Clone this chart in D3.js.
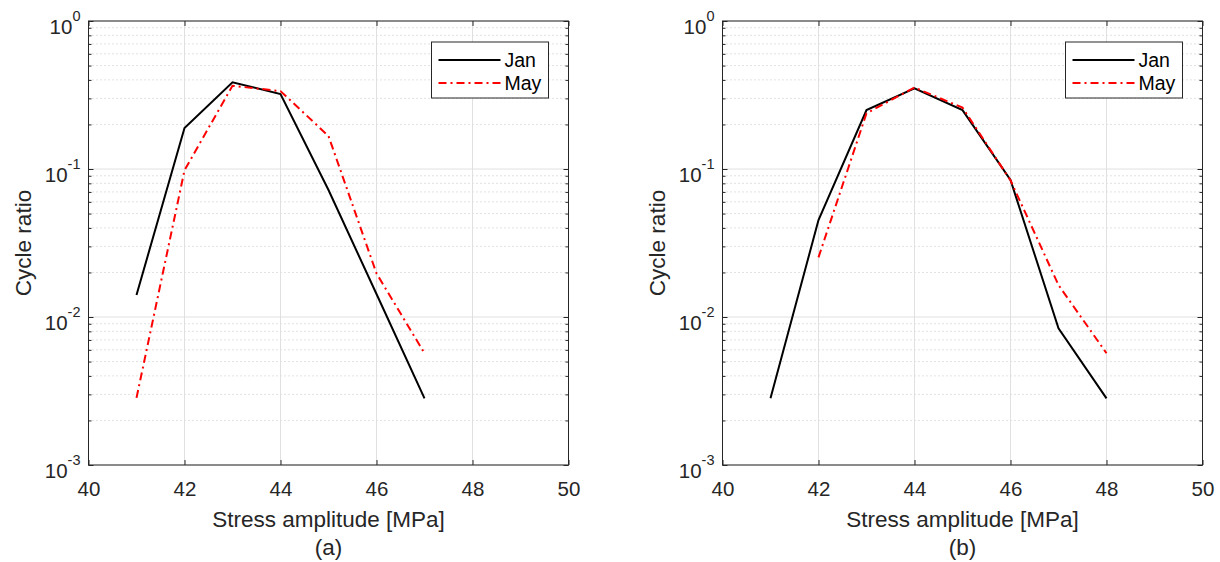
<!DOCTYPE html>
<html>
<head>
<meta charset="utf-8">
<script src="https://cdn.jsdelivr.net/npm/d3@7"></script>
<style>
  body { margin: 0; background: #fff; }
  svg { font-family: "Liberation Sans", Arial, sans-serif; }
</style>
</head>
<body>
<svg id="chart" width="1220" height="562"></svg>
<script>
// stress amplitude waarden (x) en cycle ratio per maand
var stressA = [41, 42, 43, 44, 45, 46, 47];
var janA    = [0.0141, 0.189, 0.385, 0.321, 0.0721, 0.0143, 0.00282];
var mayA    = [0.00284, 0.098, 0.365, 0.336, 0.167, 0.0197, 0.00569];

var stressJanB = [41, 42, 43, 44, 45, 46, 47, 48];
var janB       = [0.00282, 0.0452, 0.25, 0.351, 0.25, 0.0843, 0.00839, 0.00282];
var stressMayB = [42, 43, 44, 45, 46, 47, 48];
var mayB       = [0.0253, 0.238, 0.355, 0.26, 0.0838, 0.01644, 0.00569];

var xTicks = [40, 42, 44, 46, 48, 50];
var yTicks = [1e-3, 1e-2, 1e-1, 1];
var seriesNames = ["Jan", "May"];
var panelLabels = ["(a)", "(b)"];

var svg = d3.select("#chart");
var axisColor = "#262626";

function drawPanel(left, series, label) {
  var top = 21, w = 480, h = 444;
  var g = svg.append("g").attr("transform", "translate(" + left + "," + top + ")");

  var x = d3.scaleLinear().domain([40, 50]).range([0, w]);
  var y = d3.scaleLog().domain([1e-3, 1]).range([h, 0]);

  // minor waarden 2..9 per decade
  var minor = [];
  yTicks.slice(0, -1).forEach(function(d) {
    for (var k = 2; k <= 9; k++) minor.push(d * k);
  });

  // grid
  g.append("g").selectAll("line").data(minor).enter().append("line")
    .attr("x1", 0).attr("x2", w)
    .attr("y1", function(d) { return y(d); }).attr("y2", function(d) { return y(d); })
    .attr("stroke", "#c4c4c4").attr("stroke-width", 1).attr("stroke-dasharray", "1,3");
  g.append("g").selectAll("line").data(xTicks).enter().append("line")
    .attr("x1", function(d) { return x(d); }).attr("x2", function(d) { return x(d); })
    .attr("y1", 0).attr("y2", h)
    .attr("stroke", "#e0e0e0").attr("stroke-width", 1);
  g.append("g").selectAll("line").data(yTicks).enter().append("line")
    .attr("x1", 0).attr("x2", w)
    .attr("y1", function(d) { return y(d); }).attr("y2", function(d) { return y(d); })
    .attr("stroke", "#e0e0e0").attr("stroke-width", 1);

  // lijnen
  var line = d3.line()
    .x(function(d) { return x(d[0]); })
    .y(function(d) { return y(d[1]); });

  series.forEach(function(s) {
    g.append("path")
      .datum(d3.zip(s.xs, s.ys))
      .attr("fill", "none")
      .attr("stroke", s.color)
      .attr("stroke-width", 2)
      .attr("stroke-dasharray", s.dash)
      .attr("d", line);
  });

  // assen (ticks naar binnen)
  function styleAxis(sel) {
    sel.select(".domain").remove();
    sel.selectAll("line").attr("stroke", axisColor);
    sel.selectAll("text").attr("fill", axisColor);
  }

  g.append("g").attr("transform", "translate(0," + h + ")")
    .call(d3.axisBottom(x).tickValues(xTicks).tickSize(-5).tickPadding(16))
    .call(styleAxis)
    .selectAll("text").attr("font-size", 20.5);
  g.append("g")
    .call(d3.axisTop(x).tickValues(xTicks).tickSize(-5).tickFormat(""))
    .call(styleAxis);

  var yl = g.append("g")
    .call(d3.axisLeft(y).tickValues(yTicks).tickSize(-5).tickPadding(8).tickFormat(""))
    .call(styleAxis);
  yl.selectAll(".tick text").each(function(d) {
    var t = d3.select(this).attr("font-size", 20.5).attr("dy", "0.6em");
    t.append("tspan").text("10");
    t.append("tspan").attr("font-size", 14.5).attr("dy", "-0.85em")
      .text(String(Math.round(Math.log10(d))));
  });
  g.append("g")
    .call(d3.axisLeft(y).tickValues(minor).tickSize(-3).tickFormat(""))
    .call(styleAxis);
  g.append("g").attr("transform", "translate(" + w + ",0)")
    .call(d3.axisRight(y).tickValues(yTicks).tickSize(-5).tickFormat(""))
    .call(styleAxis);
  g.append("g").attr("transform", "translate(" + w + ",0)")
    .call(d3.axisRight(y).tickValues(minor).tickSize(-3).tickFormat(""))
    .call(styleAxis);

  // kader
  g.append("rect").attr("width", w).attr("height", h)
    .attr("fill", "none").attr("stroke", axisColor).attr("stroke-width", 1);

  // labels
  g.append("text").attr("x", w / 2).attr("y", h + 62)
    .attr("text-anchor", "middle").attr("font-size", 22.5).attr("fill", axisColor)
    .text("Stress amplitude [MPa]");
  g.append("text").attr("x", w / 2).attr("y", h + 90)
    .attr("text-anchor", "middle").attr("font-size", 22.5).attr("fill", axisColor)
    .text(label);
  g.append("text")
    .attr("transform", "translate(" + (-58) + "," + (h / 2) + ") rotate(-90)")
    .attr("text-anchor", "middle").attr("font-size", 22.5).attr("fill", axisColor)
    .text("Cycle ratio");

  // legenda
  var lg = g.append("g").attr("transform", "translate(" + (w - 137) + ",21)");
  lg.append("rect").attr("width", 117).attr("height", 56)
    .attr("fill", "#fff").attr("stroke", axisColor).attr("stroke-width", 1);
  series.forEach(function(s, i) {
    var yy = 18 + i * 23;
    lg.append("line").attr("x1", 7).attr("x2", 69).attr("y1", yy).attr("y2", yy)
      .attr("stroke", s.color).attr("stroke-width", 2).attr("stroke-dasharray", s.dash);
    lg.append("text").attr("x", 73).attr("y", yy).attr("dy", "0.35em")
      .attr("font-size", 19.5).attr("fill", "#000").text(s.name);
  });
}

drawPanel(88.5, [
  {name: seriesNames[0], xs: stressA, ys: janA, color: "#000", dash: null},
  {name: seriesNames[1], xs: stressA, ys: mayA, color: "#ff0000", dash: "8,4,2,4"}
], panelLabels[0]);

drawPanel(722.5, [
  {name: seriesNames[0], xs: stressJanB, ys: janB, color: "#000", dash: null},
  {name: seriesNames[1], xs: stressMayB, ys: mayB, color: "#ff0000", dash: "8,4,2,4"}
], panelLabels[1]);
</script>
</body>
</html>
